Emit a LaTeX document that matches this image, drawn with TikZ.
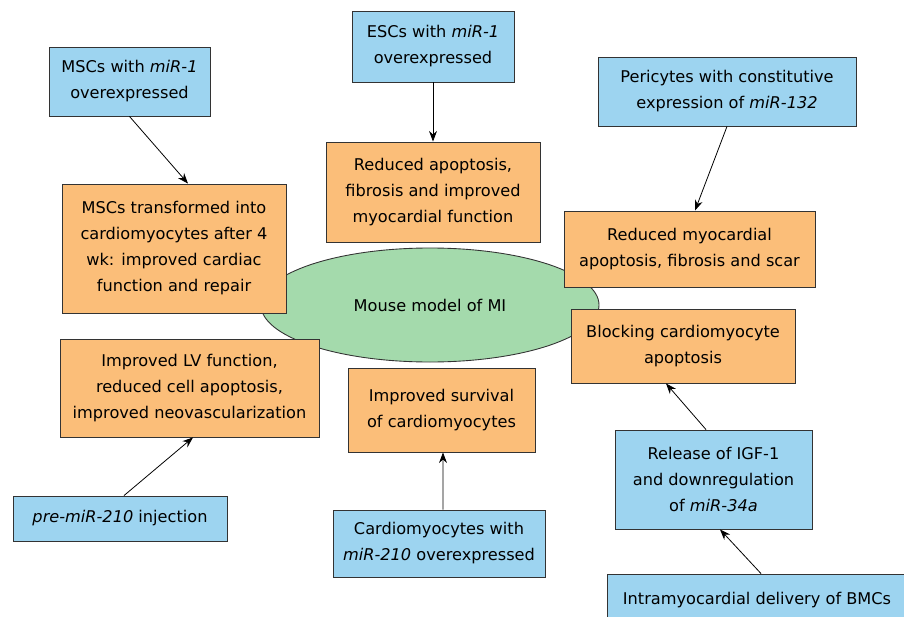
\documentclass[tikz,border=0pt]{standalone}
\usepackage{fontspec}
\setmainfont{DejaVu Sans}
\usetikzlibrary{arrows.meta,shapes.geometric}
\definecolor{cellblue}{RGB}{157,212,240}
\definecolor{resorange}{RGB}{251,190,121}
\definecolor{mousegreen}{RGB}{164,218,172}

\begin{document}
\begin{tikzpicture}[x=0.2mm,y=-0.2mm,
    cause/.style={draw=black!80, fill=cellblue, line width=0.5pt, align=center,
        inner sep=0pt, font=\fontsize{9.2}{14.8}\selectfont},
    effect/.style={cause, fill=resorange},
    arr/.style={-{Stealth[length=6pt,width=4.5pt]}, line width=0.45pt}]
    \useasboundingbox (0,0) rectangle (904,617);
    \clip (0,0) rectangle (904,617);

    % the model in the middle
    \node[ellipse, draw=black!80, fill=mousegreen, line width=0.5pt,
        minimum width=67.6mm, minimum height=22.8mm,
        font=\fontsize{9.2}{14.8}\selectfont] (mi) at (430,305) {Mouse model of MI};

    % treatments
    \node[cause, minimum width=32.2mm, minimum height=13.8mm] (msc) at (129.5,81.5)
        {MSCs with \textit{miR-1}\\overexpressed};
    \node[cause, minimum width=32.4mm, minimum height=14.2mm] (esc) at (433,46.5)
        {ESCs with \textit{miR-1}\\overexpressed};
    \node[cause, minimum width=51.6mm, minimum height=13.8mm] (peri) at (727,91.5)
        {Pericytes with constitutive\\expression of \textit{miR-132}};
    \node[cause, minimum width=42.8mm, minimum height=9mm] (premir) at (120,518.5)
        {\textit{pre-miR-210} injection};
    \node[cause, minimum width=42.4mm, minimum height=13.4mm] (cardio) at (439,543.5)
        {Cardiomyocytes with\\\textit{miR-210} overexpressed};
    \node[cause, minimum width=39.4mm, minimum height=19.8mm] (igf) at (713.5,479.5)
        {Release of IGF-1\\and downregulation\\of \textit{miR-34a}};
    \node[cause, minimum width=60mm, minimum height=10.4mm] (bmc) at (757,600)
        {Intramyocardial delivery of BMCs};

    % outcomes
    \node[effect, minimum width=44.8mm, minimum height=25.8mm] (mscres) at (174,248.5)
        {MSCs transformed into\\cardiomyocytes after 4\\wk: improved cardiac\\function and repair};
    \node[effect, minimum width=42.8mm, minimum height=20mm] (escres) at (433,192)
        {Reduced apoptosis,\\fibrosis and improved\\myocardial function};
    \node[effect, minimum width=50.2mm, minimum height=15.2mm] (perires) at (689.5,249)
        {Reduced myocardial\\apoptosis, fibrosis and scar};
    \node[effect, minimum width=44.8mm, minimum height=14.8mm] (block) at (683,346)
        {Blocking cardiomyocyte\\apoptosis};
    \node[effect, minimum width=51.8mm, minimum height=19.6mm] (lvres) at (189.5,388)
        {Improved LV function,\\reduced cell apoptosis,\\improved neovascularization};
    \node[effect, minimum width=37.4mm, minimum height=16.8mm] (survres) at (441.5,410)
        {Improved survival\\of cardiomyocytes};

    % arrows
    \draw[arr] (msc.south) -- ([xshift=2.8mm]mscres.north);
    \draw[arr] (esc.south) -- (escres.north);
    \draw[arr] (peri.south) -- ([xshift=1.1mm]perires.north);
    \draw[arr] ([xshift=0.8mm]premir.north) -- ([xshift=0.7mm]lvres.south);
    \draw[arr] ([xshift=0.8mm]cardio.north) -- ([xshift=0.3mm]survres.south);
    \draw[arr] ([xshift=-1.5mm]igf.north) -- ([xshift=-3.4mm]block.south);
    \draw[arr] ([xshift=0.8mm]bmc.north) -- ([xshift=1.3mm]igf.south);
\end{tikzpicture}
\end{document}
